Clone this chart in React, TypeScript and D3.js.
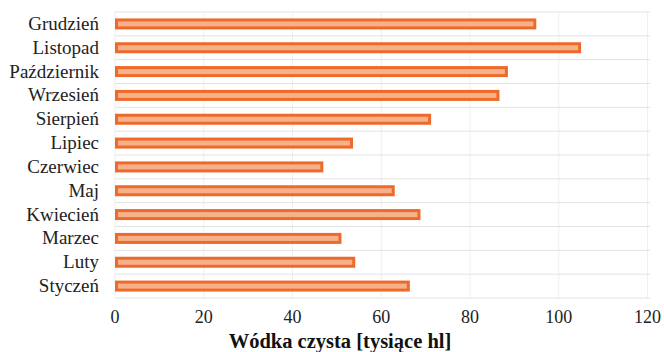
import React from "react";
import * as d3 from "d3";

const months = [
  "Grudzień",
  "Listopad",
  "Październik",
  "Wrzesień",
  "Sierpień",
  "Lipiec",
  "Czerwiec",
  "Maj",
  "Kwiecień",
  "Marzec",
  "Luty",
  "Styczeń",
];
const values = [94.6, 104.7, 88.2, 86.3, 70.9, 53.3, 46.6, 62.7, 68.5, 50.7, 53.8, 66.1];
const xTicks = [0, 20, 40, 60, 80, 100, 120];
const xTitle = "Wódka czysta [tysiące hl]";

const W = 664;
const H = 352;
const margin = { left: 115, right: 16, top: 12, bottom: 54 };
const serif = "Liberation Serif";

export default function App() {
  const x = d3.scaleLinear().domain([0, 120]).range([margin.left, W - margin.right - 0.5]);
  const y = d3
    .scaleBand<string>()
    .domain(months)
    .range([margin.top, H - margin.bottom])
    .paddingInner(0)
    .paddingOuter(0);
  const barH = 8;

  const boundaries = months.map((m) => y(m)!).concat([y.range()[1]]);

  return (
    <svg
      width={W}
      height={H}
      style={{ position: "absolute", left: 0, top: 0, background: "#fff", fontFamily: serif }}
    >
      {/* vertical gridlines */}
      {xTicks.map((t) => (
        <line
          key={"v" + t}
          x1={x(t)}
          x2={x(t)}
          y1={y.range()[0]}
          y2={y.range()[1]}
          stroke="#f0f0f0"
          strokeWidth={1}
        />
      ))}
      {/* category boundary lines */}
      {boundaries.map((b, i) => (
        <line
          key={"h" + i}
          x1={x(0)}
          x2={W - 14}
          y1={b}
          y2={b}
          stroke="#e3e3e3"
          strokeWidth={1}
        />
      ))}
      {/* bars */}
      {months.map((m, i) => {
        const cy = y(m)! + y.bandwidth() / 2;
        return (
          <rect
            key={m}
            x={x(0) + 1.5}
            y={cy - barH / 2}
            width={x(values[i]) - x(0) - 1.5}
            height={barH}
            fill="#f6b18a"
            stroke="#ee6a2a"
            strokeWidth={3}
          />
        );
      })}
      {/* category labels */}
      {months.map((m) => (
        <text
          key={"l" + m}
          x={99}
          y={y(m)! + y.bandwidth() / 2 + 6}
          textAnchor="end"
          fontSize={19}
          fill="#222"
          style={{ fontFamily: serif }}
        >
          {m}
        </text>
      ))}
      {/* x tick labels */}
      {xTicks.map((t) => (
        <text
          key={"t" + t}
          x={x(t)}
          y={323}
          textAnchor="middle"
          fontSize={18}
          fill="#222"
          style={{ fontFamily: serif }}
        >
          {t}
        </text>
      ))}
      <text
        x={340}
        y={348}
        textAnchor="middle"
        fontSize={20.5}
        fontWeight="bold"
        fill="#111"
        style={{ fontFamily: serif }}
      >
        {xTitle}
      </text>
    </svg>
  );
}
